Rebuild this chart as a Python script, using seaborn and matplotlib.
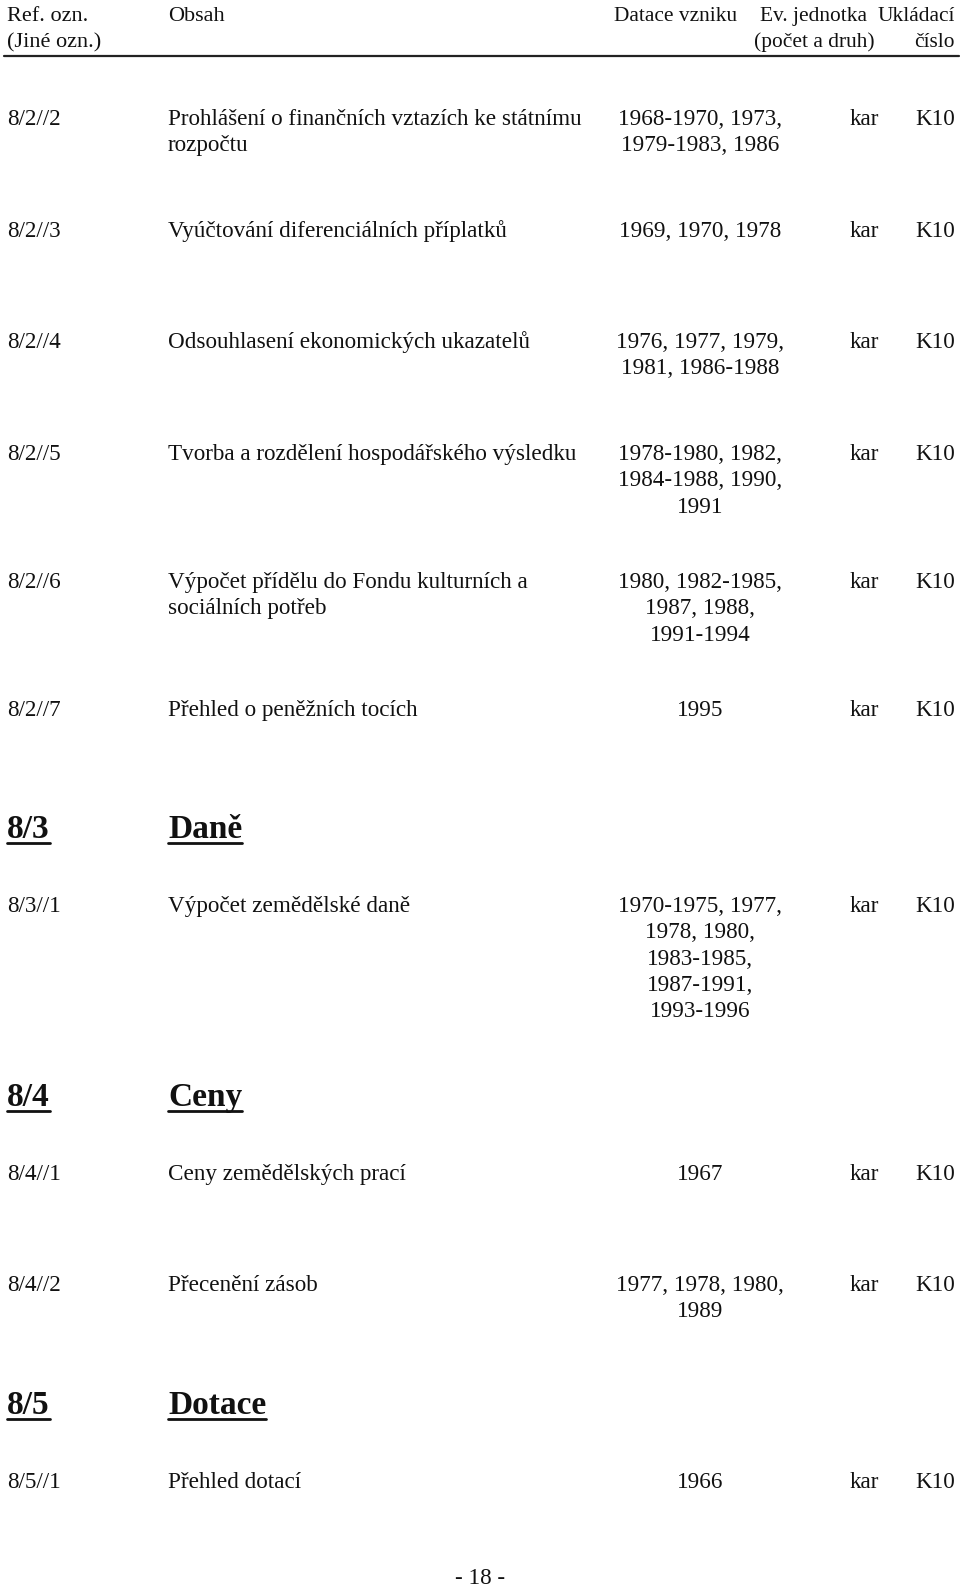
import matplotlib
matplotlib.use("Agg")
import matplotlib.pyplot as plt
import seaborn as sns

# Data: page rows of the archive inventory
header_ref = ["Ref. ozn.", "(Jiné ozn.)"]
header_title = ["Obsah"]
header_date = ["Datace vzniku"]
header_unit = ["Ev. jednotka", "(počet a druh)"]
header_box = ["Ukládací", "číslo"]

row_refs = ["8/2//2", "8/2//3", "8/2//4", "8/2//5", "8/2//6", "8/2//7",
            "8/3//1", "8/4//1", "8/4//2", "8/5//1"]
row_titles = [
    ["Prohlášení o finančních vztazích ke státnímu", "rozpočtu"],
    ["Vyúčtování diferenciálních příplatků"],
    ["Odsouhlasení ekonomických ukazatelů"],
    ["Tvorba a rozdělení hospodářského výsledku"],
    ["Výpočet přídělu do Fondu kulturních a", "sociálních potřeb"],
    ["Přehled o peněžních tocích"],
    ["Výpočet zemědělské daně"],
    ["Ceny zemědělských prací"],
    ["Přecenění zásob"],
    ["Přehled dotací"],
]
row_dates = [
    ["1968-1970, 1973,", "1979-1983, 1986"],
    ["1969, 1970, 1978"],
    ["1976, 1977, 1979,", "1981, 1986-1988"],
    ["1978-1980, 1982,", "1984-1988, 1990,", "1991"],
    ["1980, 1982-1985,", "1987, 1988,", "1991-1994"],
    ["1995"],
    ["1970-1975, 1977,", "1978, 1980,", "1983-1985,", "1987-1991,", "1993-1996"],
    ["1967"],
    ["1977, 1978, 1980,", "1989"],
    ["1966"],
]
row_units = ["kar", "kar", "kar", "kar", "kar", "kar", "kar", "kar", "kar", "kar"]
row_boxes = ["K10", "K10", "K10", "K10", "K10", "K10", "K10", "K10", "K10", "K10"]

section_codes = ["8/3", "8/4", "8/5"]
section_names = ["Daně", "Ceny", "Dotace"]
page_label = "- 18 -"

# Layout (pixels, top-down)
W, H = 960, 1588
row_base = [125, 237, 348, 460, 588, 716, 912, 1180, 1291, 1488]
section_base = [838, 1106, 1414]
line_h = 26.3
x_ref, x_title, x_date, x_unit, x_box = 7, 168, 700, 879, 955
fs = 16.7
fs_hdr = 15.4
fs_head = 24

sns.set_theme(style="white")
plt.rcParams["font.family"] = ["Liberation Serif", "DejaVu Serif"]

fig = plt.figure(figsize=(W / 100, H / 100), dpi=100)
ax = fig.add_axes([0, 0, 1, 1])
ax.set_xlim(0, W)
ax.set_ylim(H, 0)
ax.axis("off")


def lines(x, y, items, ha="left", size=fs, **kw):
    out = []
    for i, s in enumerate(items):
        out.append(ax.text(x, y + i * line_h, s, ha=ha, va="baseline",
                           fontsize=size, color="#111111", **kw))
    return out


# header
lines(x_ref, 21, header_ref, size=fs_hdr + 0.6)
lines(x_title, 21, header_title, size=fs_hdr + 0.6)
lines(676, 21, header_date, ha="center", size=fs_hdr)
lines(814, 21, header_unit, ha="center", size=fs_hdr)
lines(x_box, 21, header_box, ha="right", size=fs_hdr)
ax.plot([4, 959], [56, 56], color="#222222", lw=1.6)

# rows
for i in range(len(row_refs)):
    y = row_base[i]
    lines(x_ref, y, [row_refs[i]])
    lines(x_title, y, row_titles[i])
    lines(x_date, y, row_dates[i], ha="center")
    lines(x_unit, y, [row_units[i]], ha="right")
    lines(x_box, y, [row_boxes[i]], ha="right")

# section headings, bold and underlined
heads = []
for code, name, y in zip(section_codes, section_names, section_base):
    heads += lines(x_ref, y, [code], size=fs_head, fontweight="bold")
    heads += lines(x_title, y, [name], size=fs_head, fontweight="bold")

renderer = fig.canvas.get_renderer()
inv = ax.transData.inverted()
for t in heads:
    bb = t.get_window_extent(renderer)
    (x0, _), (x1, _) = inv.transform([(bb.x0, bb.y0), (bb.x1, bb.y0)])
    yb = t.get_position()[1] + 5
    ax.plot([x0, x1], [yb, yb], color="#111111", lw=2.0)

# page number
lines(480, 1584, [page_label], ha="center")

fig.savefig("out.png", dpi=100, facecolor="white")
